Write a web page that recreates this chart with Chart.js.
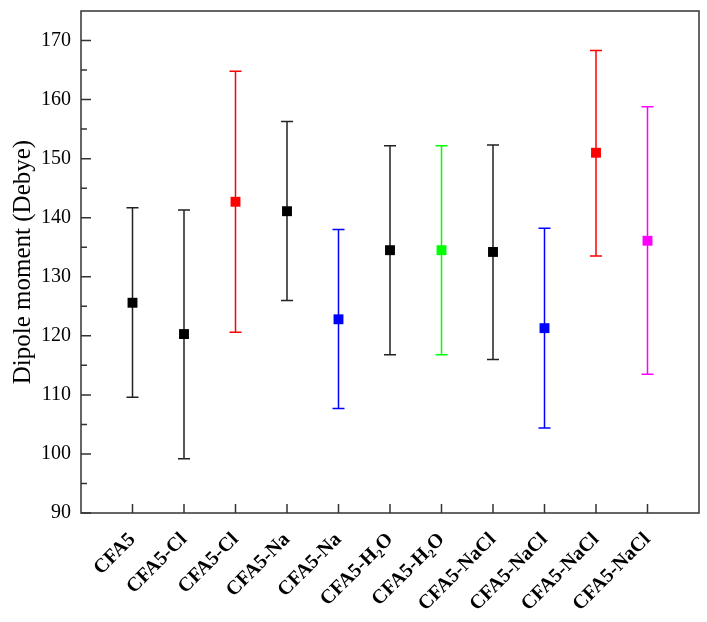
<!DOCTYPE html>
<html>
<head>
<meta charset="utf-8">
<script src="https://cdn.jsdelivr.net/npm/chart.js@4.4.1/dist/chart.umd.min.js"></script>
<style>
  html,body{margin:0;padding:0;background:#fff;}
  canvas{display:block;}
</style>
</head>
<body>
<canvas id="dipoleChart" width="707" height="622"></canvas>
<script>
// values
const categories = ['CFA5','CFA5-Cl','CFA5-Cl','CFA5-Na','CFA5-Na','CFA5-H\u2082O','CFA5-H\u2082O','CFA5-NaCl','CFA5-NaCl','CFA5-NaCl','CFA5-NaCl'];
const means = [125.6,120.3,142.7,141.1,122.8,134.5,134.5,134.2,121.3,151.0,136.1];
const upper = [141.7,141.3,164.8,156.3,138.0,152.2,152.2,152.3,138.2,168.3,158.8];
const lower = [109.6,99.2,120.6,126.0,107.7,116.8,116.8,116.0,104.4,133.5,113.5];
const colors = ['#000000','#000000','#ff0000','#000000','#0000ff','#000000','#00ff00','#000000','#0000ff','#ff0000','#ff00ff'];

const serif = "'Liberation Serif', 'Times New Roman', serif";

// error bars drawn through the chart's scales
const errorBars = {
  id:'errorBars',
  beforeDatasetsDraw(chart){
    const {ctx, scales:{x, y}} = chart;
    ctx.save();
    ctx.lineWidth = 1.5;
    means.forEach((m,i)=>{
      const px = x.getPixelForValue(i+1);
      const top = y.getPixelForValue(upper[i]);
      const bot = y.getPixelForValue(lower[i]);
      ctx.strokeStyle = colors[i]==='#000000' ? '#222' : colors[i];
      ctx.beginPath();
      ctx.moveTo(px, top); ctx.lineTo(px, bot);
      ctx.moveTo(px-6, top); ctx.lineTo(px+6, top);
      ctx.moveTo(px-6, bot); ctx.lineTo(px+6, bot);
      ctx.stroke();
    });
    ctx.restore();
  }
};

// frame + inward ticks
const frame = {
  id:'frame',
  afterDraw(chart){
    const {ctx, chartArea:a, scales:{x, y}} = chart;
    ctx.save();
    ctx.strokeStyle = '#333';
    ctx.lineWidth = 1.5;
    ctx.strokeRect(a.left, a.top, a.right-a.left, a.bottom-a.top);
    ctx.beginPath();
    y.ticks.forEach(t=>{
      const py = y.getPixelForValue(t.value);
      ctx.moveTo(a.left, py); ctx.lineTo(a.left+10, py);
      const mid = t.value + 5;
      if (mid < y.max) {
        const pm = y.getPixelForValue(mid);
        ctx.moveTo(a.left, pm); ctx.lineTo(a.left+6, pm);
      }
    });
    categories.forEach((_,i)=>{
      const px = x.getPixelForValue(i+1);
      ctx.moveTo(px, a.bottom); ctx.lineTo(px, a.bottom-9);
    });
    ctx.stroke();
    ctx.restore();
  }
};

new Chart(document.getElementById('dipoleChart'), {
  type:'scatter',
  data:{
    datasets:[{
      data: means.map((m,i)=>({x:i+1, y:m})),
      pointStyle:'rect',
      pointRadius:7,
      pointHoverRadius:7,
      pointBorderWidth:0,
      pointBackgroundColor: colors,
      pointBorderColor: colors
    }]
  },
  options:{
    responsive:false,
    animation:false,
    layout:{padding:{top:11, right:8, left:0, bottom:0}},
    plugins:{legend:{display:false}, tooltip:{enabled:false}},
    scales:{
      x:{
        type:'linear', min:0, max:12,
        grid:{display:false, drawTicks:false},
        border:{display:false},
        afterFit(s){ s.height = 109; s.paddingLeft = 0; s.paddingRight = 0; },
        ticks:{
          stepSize:1, autoSkip:false, minRotation:45, maxRotation:45, padding:15,
          color:'#000',
          font:{family:serif, size:20, weight:'bold'},
          callback:v => categories[v-1] || ''
        }
      },
      y:{
        min:90, max:175,
        grid:{display:false, drawTicks:false},
        border:{display:false},
        afterFit(s){ s.width = 81; s.paddingTop = 0; s.paddingBottom = 0; },
        ticks:{
          stepSize:10, includeBounds:false, padding:10,
          color:'#000',
          font:{family:serif, size:20}
        },
        title:{
          display:true, text:'Dipole moment (Debye)', color:'#000',
          font:{family:serif, size:25}, padding:{top:8, bottom:0}
        }
      }
    }
  },
  plugins:[errorBars, frame]
});
</script>
</body>
</html>
